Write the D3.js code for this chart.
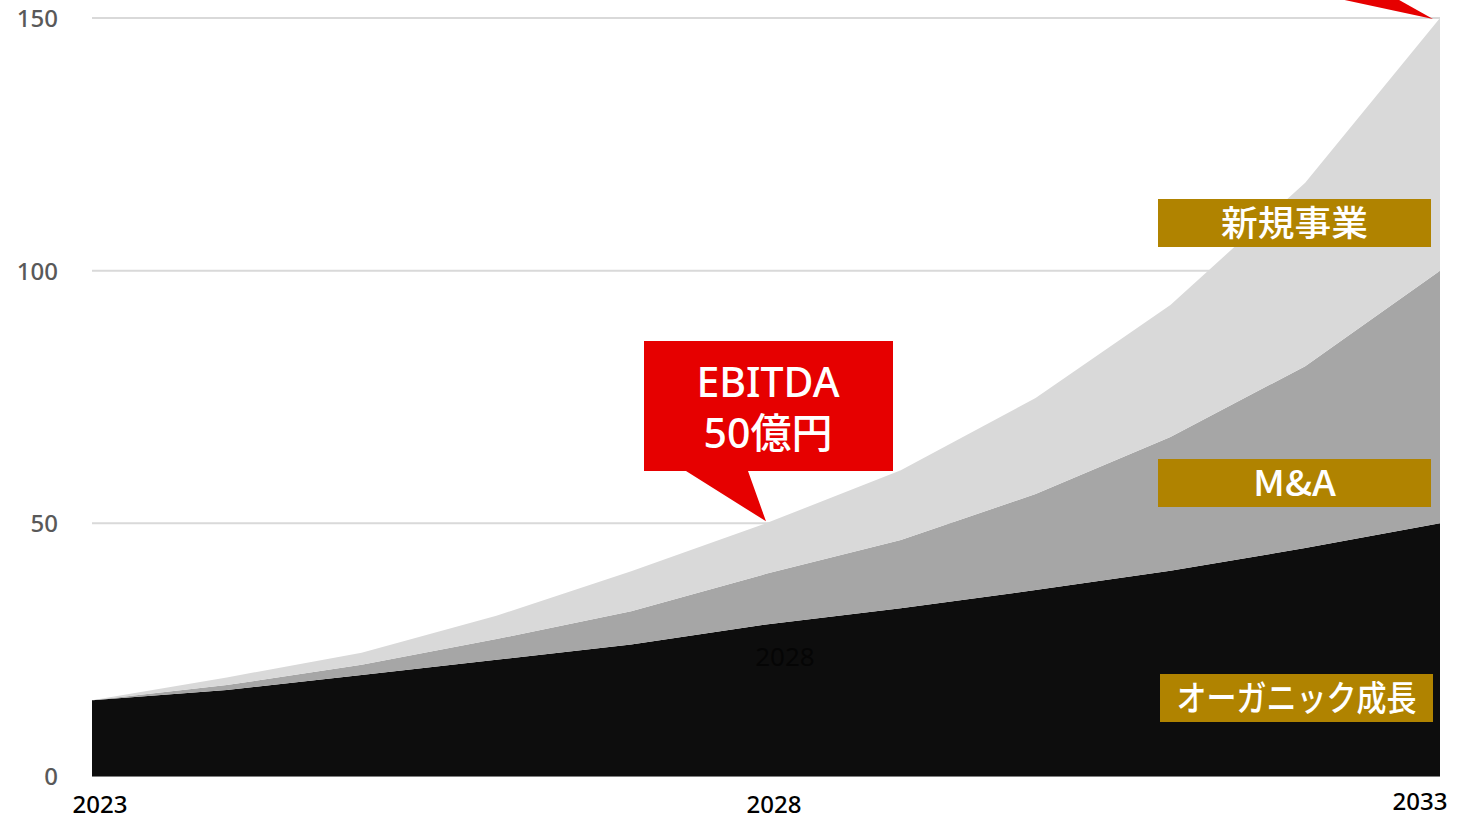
<!DOCTYPE html>
<html>
<head>
<meta charset="utf-8">
<script src="https://cdn.jsdelivr.net/npm/d3@7"></script>
<style>
  html, body { margin: 0; padding: 0; background: #fff; }
  svg { display: block; }
  text { font-family: "Noto Sans", "Noto Sans CJK JP", sans-serif; }
</style>
</head>
<body>
<svg id="chart" width="1473" height="820"></svg>
<script>
// EBITDA build-up (億円) by growth driver
const years = [2023, 2024, 2025, 2026, 2027, 2028, 2029, 2030, 2031, 2032, 2033];
const organic = [15, 17, 20, 23, 26, 30, 33.2, 36.8, 40.6, 45.1, 50];
const mna = [0, 1, 2, 4.1, 6.6, 10, 13.5, 19, 26.5, 36, 50];
const newBiz = [0, 1.5, 2.4, 4.6, 7.9, 10, 13.8, 19, 26.1, 36.3, 50];
const seriesKeys = ["organic", "mna", "newBiz"];
const seriesLabels = { organic: "オーガニック成長", mna: "M&A", newBiz: "新規事業" };
const seriesColors = { organic: "#0d0d0d", mna: "#a6a6a6", newBiz: "#d9d9d9" };
const yTicks = [0, 50, 100, 150];
const xTickYears = [2023, 2028, 2033];
const ebitdaTarget = { year: 2028, value: 50, text: ["EBITDA", "50億円"] };

const rows = years.map((y, i) => ({ year: y, organic: organic[i], mna: mna[i], newBiz: newBiz[i] }));

const svg = d3.select("#chart");
const margin = { left: 92, right: 33, top: 18, bottom: 44 };
const W = 1473, H = 820;

const x = d3.scaleLinear().domain([2023, 2033]).range([margin.left, W - margin.right]);
const y = d3.scaleLinear().domain([0, 150]).range([H - margin.bottom, margin.top]);

// gridlines
svg.append("g")
  .selectAll("line")
  .data(yTicks.filter(d => d > 0))
  .join("line")
  .attr("x1", x(2023)).attr("x2", x(2033))
  .attr("y1", d => y(d)).attr("y2", d => y(d))
  .attr("stroke", "#d9d9d9").attr("stroke-width", 2);

// stacked areas
const stack = d3.stack().keys(seriesKeys);
const layers = stack(rows);
const area = d3.area()
  .x(d => x(d.data.year))
  .y0(d => y(d[0]))
  .y1(d => y(d[1]));

svg.append("g")
  .selectAll("path")
  .data(layers)
  .join("path")
  .attr("d", area)
  .attr("fill", d => seriesColors[d.key]);

// baseline
svg.append("line")
  .attr("x1", x(2023)).attr("x2", x(2033))
  .attr("y1", y(0) + 0.5).attr("y2", y(0) + 0.5)
  .attr("stroke", "#7f7f7f").attr("stroke-width", 1);

// y axis labels
const yAxis = d3.axisLeft(y).tickValues(yTicks).tickSize(0).tickPadding(0);
const gy = svg.append("g").attr("transform", `translate(${58},0)`).call(yAxis);
gy.select(".domain").remove();
gy.selectAll("text")
  .attr("fill", "#595959")
  .style("font-size", "24px")
  .style("font-weight", "500")
  .style("font-family", "'Noto Sans', sans-serif")
  .attr("dy", "0.36em");

// x axis labels
const xLabelPos = { 2023: 100, 2028: 774, 2033: 1420 };
const xLabelBase = { 2023: 813, 2028: 813, 2033: 810 };
svg.append("g")
  .selectAll("text")
  .data(xTickYears)
  .join("text")
  .attr("x", d => xLabelPos[d])
  .attr("y", d => xLabelBase[d])
  .attr("text-anchor", "middle")
  .attr("fill", "#000")
  .style("font-size", "24px")
  .style("font-weight", "500")
  .text(d => d);

// faint year label inside the organic band
svg.append("text")
  .attr("x", 785).attr("y", 666)
  .attr("text-anchor", "middle")
  .attr("fill", "#050505")
  .style("font-size", "26px")
  .text("2028");

// series name tags
const tags = [
  { key: "newBiz", x0: 1158, y0: 199, w: 147 },
  { key: "mna", x0: 1158, y0: 459, w: 83 },
  { key: "organic", x0: 1160, y0: 674, w: 240 }
];
const tagG = svg.append("g").selectAll("g").data(tags).join("g")
  .attr("transform", d => `translate(${d.x0},${d.y0})`);
tagG.append("rect").attr("width", 273).attr("height", 48).attr("fill", "#b08300");
tagG.append("text")
  .attr("x", 136.5).attr("y", 37)
  .attr("text-anchor", "middle")
  .attr("fill", "#fff")
  .attr("textLength", d => d.w)
  .attr("lengthAdjust", "spacingAndGlyphs")
  .style("font-size", "35px")
  .style("font-weight", "500")
  .style("font-family", "'Noto Sans CJK JP', 'Noto Sans', sans-serif")
  .text(d => seriesLabels[d.key]);

// EBITDA callout pointing at the 2028 total
const tx = x(ebitdaTarget.year), ty = y(ebitdaTarget.value);
const callout = svg.append("g");
callout.append("path")
  .attr("d", `M644,341 H893 V471 H748 L${tx},${ty - 2} L686,471 H644 Z`)
  .attr("fill", "#e60000");
callout.append("text")
  .attr("x", 768).attr("y", 397)
  .attr("text-anchor", "middle")
  .attr("fill", "#fff")
  .style("font-size", "41px")
  .style("font-weight", "500")
  .text(ebitdaTarget.text[0]);
callout.append("text")
  .attr("x", 768).attr("y", 448)
  .attr("text-anchor", "middle")
  .attr("fill", "#fff")
  .style("font-size", "41px")
  .style("font-weight", "500")
  .style("font-family", "'Noto Sans', 'Noto Sans CJK JP', sans-serif")
  .text(ebitdaTarget.text[1]);

// tail of the 2033 target callout (box sits above the frame)
const ex = x(2033), ey = y(150);
svg.append("path")
  .attr("d", `M1326,-4 L1392,-4 L${ex - 7},${ey + 1} Z`)
  .attr("fill", "#e60000");
</script>
</body>
</html>
